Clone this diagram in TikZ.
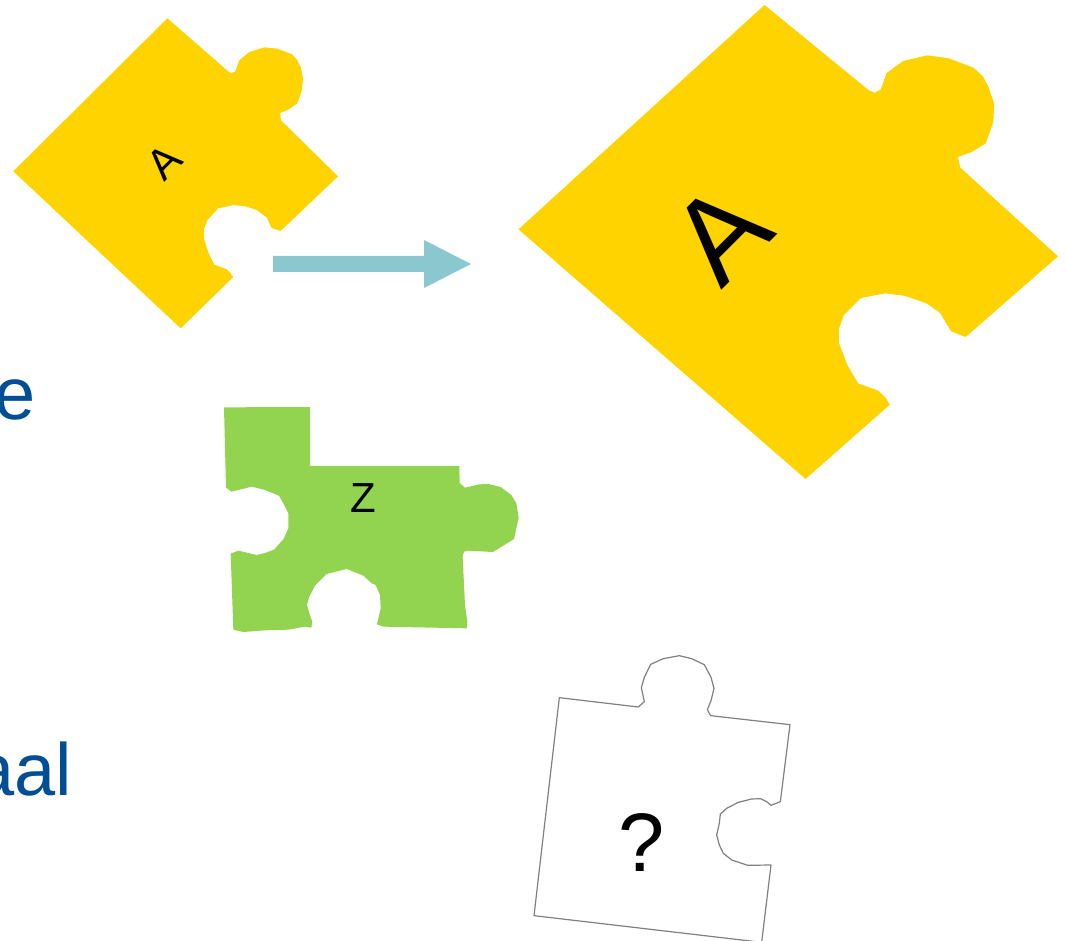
\documentclass[tikz,border=0pt]{standalone}
\usepackage{fontspec}
\setmainfont{Liberation Sans}
\definecolor{pieceyellow}{HTML}{FFD300}
\definecolor{piecegreen}{HTML}{92D350}
\definecolor{arrowteal}{HTML}{8BC7CF}
\definecolor{wordblue}{HTML}{004F95}
\definecolor{outlinegrey}{HTML}{808080}
\newcommand{\px}[1]{\fontsize{#1}{#1}\selectfont}
\tikzset{
  yellowpiece/.style={fill=pieceyellow,draw=none},
  greenpiece/.style={fill=piecegreen,draw=none},
  blankpiece/.style={fill=white,draw=outlinegrey,line width=1.2pt,line join=round},
  fine/.style={shift={#1},scale=0.333333},
  letter/.style={inner sep=0pt,outer sep=0pt,text=black},
  word/.style={inner sep=0pt,outer sep=0pt,text=wordblue,anchor=base east}
}
\begin{document}
\begin{tikzpicture}[x=1pt,y=-1pt]
\useasboundingbox (0,0) rectangle (1066,941);
\fill[white] (0,0) rectangle (1066,941);

% small yellow piece
\begin{scope}[fine={(0,0)}]
\fill[yellowpiece] (502,55)--(688,217)--(695,219)--(706,214)--(718,181)--(748,156)--(793,142)--(832,146)--(876,163)--(891,180)--(903,203)--(909,235)--(906,270)--(892,310)--(865,329)--(840,339)--(843,361)--(1014,529)--(842,693)--(815,684)--(800,652)--(770,630)--(737,619)--(700,615)--(655,625)--(623,659)--(612,687)--(612,716)--(625,758)--(643,794)--(679,807)--(692,820)--(699,832)--(542,985)--(40,514)--cycle;
\end{scope}
\node[letter,rotate=45] (smallA) at (164,162) {\px{43}A};

% large yellow piece, stretched sideways
\begin{scope}[shift={(510,0)},xscale=0.354,yscale=0.333333]
\fill[yellowpiece] (719,15)--(1015,272)--(1030,278)--(1047,269)--(1064,219)--(1110,183)--(1179,166)--(1240,175)--(1309,203)--(1336,229)--(1352,262)--(1368,312)--(1365,367)--(1344,430)--(1304,456)--(1265,471)--(1272,503)--(1548,769)--(1287,1011)--(1246,994)--(1215,939)--(1178,911)--(1118,888)--(1060,880)--(991,894)--(943,945)--(929,987)--(929,1028)--(953,1095)--(983,1150)--(1040,1172)--(1060,1192)--(1073,1214)--(835,1437)--(24,688)--cycle;
\end{scope}
\node[letter,rotate=45] (largeA) at (721,233) {\px{120}A};

% block arrow between the two yellow pieces
\fill[arrowteal] (273,256)--(424,256)--(424,240)--(471,264)--(424,288)--(424,272)--(273,272)--cycle;

% green piece
\begin{scope}[fine={(210,395)}]
\fill[greenpiece] (42,37)--(300,36)--(300,213)--(748,213)--(749,264)--(765,278)--(808,268)--(836,267)--(872,276)--(904,300)--(919,325)--(926,368)--(912,432)--(849,471)--(775,467)--(762,470)--(758,485)--(765,630)--(772,680)--(770,700)--(520,695)--(501,688)--(512,640)--(510,600)--(497,570)--(485,565)--(460,542)--(410,522)--(350,537)--(315,572)--(298,605)--(291,630)--(298,655)--(307,680)--(304,698)--(285,695)--(235,704)--(165,706)--(100,711)--(70,704)--(62,476)--(85,467)--(140,480)--(165,474)--(192,464)--(220,433)--(235,400)--(235,355)--(220,325)--(207,302)--(165,285)--(125,275)--(65,290)--(48,278)--cycle;
\end{scope}
\node[letter] (letterZ) at (363,498) {\px{42}Z};

% outlined piece, its lower corner running to the page edge
\begin{scope}[fine={(525,645)}]
\draw[blankpiece] (103,158)--(340,186)--(358,170)--(349,128)--(358,97)--(377,58)--(415,41)--(463,32)--(500,41)--(538,59)--(558,97)--(567,130)--(558,167)--(547,194)--(557,212)--(795,239)--(766,470)--(738,481)--(725,470)--(707,461)--(680,462)--(640,472)--(605,490)--(586,507)--(583,535)--(575,570)--(583,600)--(595,625)--(620,645)--(668,661)--(738,660)--(710,892)--(27,812)--cycle;
\end{scope}
\node[letter] (question) at (642,843) {\px{83}?};

% words running off the left side
\node[word] (wordE) at (36,419) {\px{74}e};
\node[word] (wordAal) at (72,795) {\px{74}aal};
\end{tikzpicture}
\end{document}
